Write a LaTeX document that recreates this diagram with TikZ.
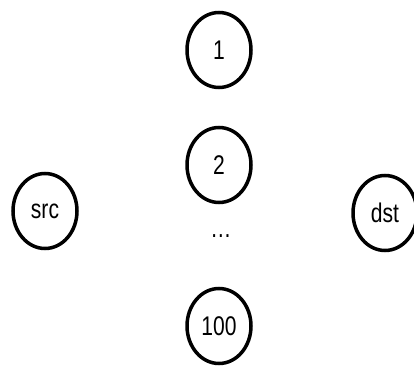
\documentclass[tikz,border=0pt]{standalone}
\usepackage{fontspec}
\setmainfont{Liberation Sans}
\usetikzlibrary{shapes.geometric}
\tikzset{
  vertex/.style={ellipse, draw, line width=3.5pt, inner sep=0pt,
    minimum width=64pt, minimum height=75pt},
  lbl/.style={font=\fontsize{27}{27}\selectfont}
}
\newcommand{\narrow}[1]{\scalebox{0.78}[1]{#1}}
\begin{document}
\begin{tikzpicture}[x=1pt,y=1pt]
  \useasboundingbox (0,0) rectangle (414,367);
  \node[vertex, lbl] (n1)   at (219,317) {\narrow{1}};
  \node[vertex, lbl] (n2)   at (219,202) {\narrow{2}};
  \node[lbl]         (dots) at (221,131) {\narrow{\dots}};
  \node[vertex, lbl] (n100) at (219,41)  {\narrow{100}};
  \node[vertex, lbl] (src)  at (45,156)  {\narrow{src}};
  \node[vertex, lbl] (dst)  at (385,154) {\narrow{dst}};
\end{tikzpicture}
\end{document}
